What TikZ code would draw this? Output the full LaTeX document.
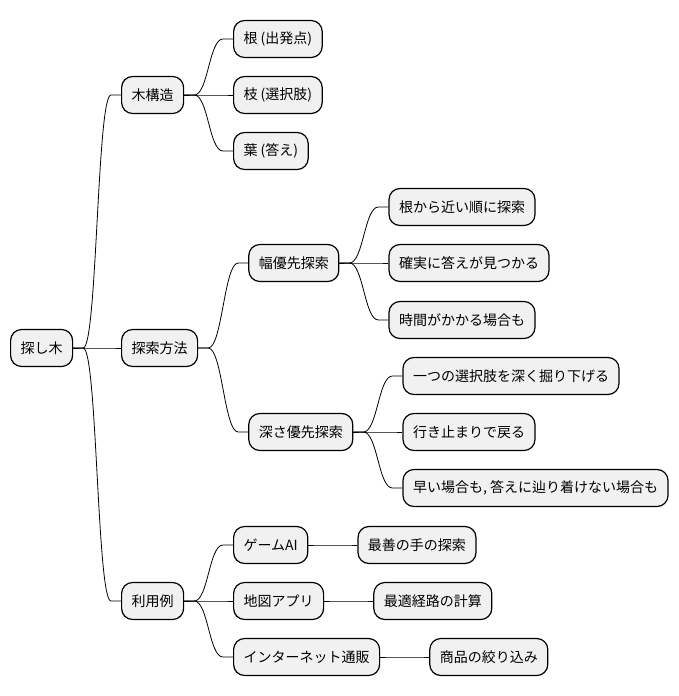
\documentclass[tikz,border=0pt]{standalone}
\usepackage{fontspec}
\setmainfont{Noto Sans CJK JP}
\usepackage{tikz}
\usetikzlibrary{positioning, calc}
\definecolor{boxgray}{HTML}{F1F1F1}

\begin{document}
\begin{tikzpicture}[x=1pt, y=-1pt, every node/.style={font=\fontsize{14}{16}\selectfont}]
	\tikzstyle{topic}=[draw=black, line width=1.2pt, rounded corners=11pt, fill=boxgray, text=black, minimum height=37pt, inner xsep=10pt, anchor=west]
	\tikzstyle{link}=[draw=black, line width=0.8pt]

	\useasboundingbox (0,0) rectangle (679,696);

	%% root and first level
	\node [topic] (root) at (10,348) {探し木};
	\node [topic] (tree) at (121,95) {木構造};
	\node [topic] (method) at (121,348) {探索方法};
	\node [topic] (usage) at (121,601) {利用例};

	%% tree structure
	\node [topic] (rootpt) at (233,39) {根 (出発点)};
	\node [topic] (branch) at (233,95) {枝 (選択肢)};
	\node [topic] (leaf) at (233,151) {葉 (答え)};

	%% search methods
	\node [topic] (bfs) at ($(method.east)+(50,-85)$) {幅優先探索};
	\node [topic] (dfs) at ($(method.east)+(50,84)$) {深さ優先探索};
	\node [topic] (bfsa) at ($(bfs.east)+(49,-56)$) {根から近い順に探索};
	\node [topic] (bfsb) at ($(bfs.east)+(49,0)$) {確実に答えが見つかる};
	\node [topic] (bfsc) at ($(bfs.east)+(49,57)$) {時間がかかる場合も};
	\node [topic] (dfsa) at ($(dfs.east)+(49,-56)$) {一つの選択肢を深く掘り下げる};
	\node [topic] (dfsb) at ($(dfs.east)+(49,0)$) {行き止まりで戻る};
	\node [topic] (dfsc) at ($(dfs.east)+(49,56)$) {早い場合も, 答えに辿り着けない場合も};

	%% examples
	\node [topic] (game) at (233,545) {ゲームAI};
	\node [topic] (map) at (233,601) {地図アプリ};
	\node [topic] (shop) at (233,657) {インターネット通販};
	\node [topic, right=49pt of game] (gamea) {最善の手の探索};
	\node [topic, right=49pt of map] (mapa) {最適経路の計算};
	\node [topic, right=49pt of shop] (shopa) {商品の絞り込み};

	\foreach \p/\c in {root/tree, root/method, root/usage, tree/rootpt, tree/branch, tree/leaf,
		method/bfs, method/dfs, bfs/bfsa, bfs/bfsb, bfs/bfsc, dfs/dfsa, dfs/dfsb, dfs/dfsc,
		usage/game, usage/map, usage/shop, game/gamea, map/mapa, shop/shopa}
		\draw [link] (\p.east) -- ++(10,0) .. controls +(14,0) and +(-14,0) .. ($(\c.west)+(-10,0)$) -- (\c.west);
\end{tikzpicture}
\end{document}
